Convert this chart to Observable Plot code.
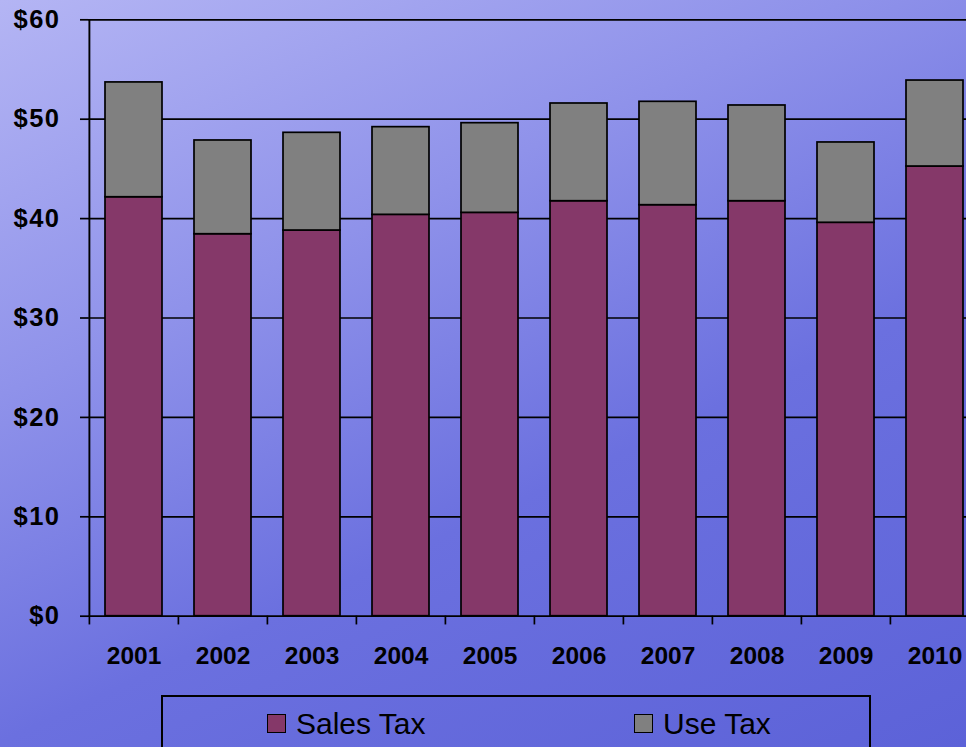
<!DOCTYPE html>
<html>
<head>
<meta charset="utf-8">
<script src="https://cdn.jsdelivr.net/npm/d3@7"></script>
<script src="https://cdn.jsdelivr.net/npm/@observablehq/plot@0.6"></script>
<style>
  html, body { margin: 0; padding: 0; overflow: hidden; }
  #wrap {
    position: relative; width: 966px; height: 747px; overflow: hidden;
    background: linear-gradient(155deg, #b4b5f4 0%, #8f92ea 33%, #6b70df 62%, #5c62d8 100%);
    font-family: "Liberation Sans", Arial, sans-serif;
  }
  #chart svg { position: absolute; left: 0; top: 0; max-width: none; background: transparent; }
  #chart g[aria-label="y-axis tick label"] text { font-size: 25.5px !important; letter-spacing: 1.5px; font-weight: bold; }
  #chart g[aria-label="x-axis tick label"] text { font-size: 24.5px !important; font-weight: bold; }
  #legend {
    position: absolute; left: 161px; top: 695px; width: 710px; height: 80px;
    border: 2px solid #000; box-sizing: border-box;
  }
  .item { position: absolute; top: 10px; font-size: 30px; line-height: 34px; color: #000; white-space: nowrap; }
  .sw { display: inline-block; width: 17px; height: 17px; border: 1.5px solid #000; margin-right: 10px; vertical-align: 1px; }
</style>
</head>
<body>
<div id="wrap">
  <div id="chart"></div>
  <div id="legend"></div>
</div>
<script>
const years = ["2001","2002","2003","2004","2005","2006","2007","2008","2009","2010"];
const salesTax = [42.15, 38.43, 38.8, 40.38, 40.58, 41.75, 41.35, 41.75, 39.58, 45.24];
const useTax   = [11.55, 9.43, 9.83, 8.82, 9.02, 9.83, 10.4, 9.63, 8.08, 8.65];
const seriesNames = ["Sales Tax", "Use Tax"];
const seriesColors = ["#853869", "#808080"];
const yTicks = [0, 10, 20, 30, 40, 50, 60];

const data = [];
years.forEach((y, i) => {
  data.push({year: y, series: seriesNames[0], value: salesTax[i]});
  data.push({year: y, series: seriesNames[1], value: useTax[i]});
});

const W = 980, H = 690;
const mL = 88, mT = 19.3, mB = H - 615.7;
const step = (W - mL) / years.length;

const chart = Plot.plot({
  width: W, height: H,
  marginLeft: mL, marginRight: 0, marginTop: mT, marginBottom: mB,
  style: {background: "transparent", overflow: "visible", fontFamily: "Liberation Sans, Arial, sans-serif"},
  x: {domain: years, paddingInner: 0.36, paddingOuter: 0.18, align: 0.5, label: null},
  y: {domain: [0, 60], label: null},
  color: {domain: seriesNames, range: seriesColors},
  marks: [
    Plot.ruleY(yTicks, {stroke: "#000", strokeWidth: 1.7}),
    Plot.barY(data, {x: "year", y: "value", fill: "series", stroke: "#000", strokeWidth: 1.7, order: seriesNames}),
    Plot.ruleX(years, {x: d => d, dx: -step / 2, y1: 0, y2: -0.88, stroke: "#000", strokeWidth: 1.7}),
    Plot.ruleX([years[0]], {x: d => d, dx: -step / 2, y1: 0, y2: 60, stroke: "#000", strokeWidth: 1.9}),
    Plot.axisY(yTicks, {tickSize: 8, tickPadding: 20, tickFormat: d => "$" + d, fontSize: 25, fontWeight: "bold", stroke: "#000", strokeWidth: 1.7, color: "#000"}),
    Plot.axisX({tickSize: 0, tickPadding: 30, fontSize: 24, fontWeight: "bold", color: "#000"})
  ]
});
document.getElementById("chart").appendChild(chart);

const legend = document.getElementById("legend");
const legendX = [104, 471];
seriesNames.forEach((name, i) => {
  const it = document.createElement("div");
  it.className = "item";
  it.style.left = legendX[i] + "px";
  it.innerHTML = `<span class="sw" style="background:${seriesColors[i]}"></span>${name}`;
  legend.appendChild(it);
});
</script>
</body>
</html>
